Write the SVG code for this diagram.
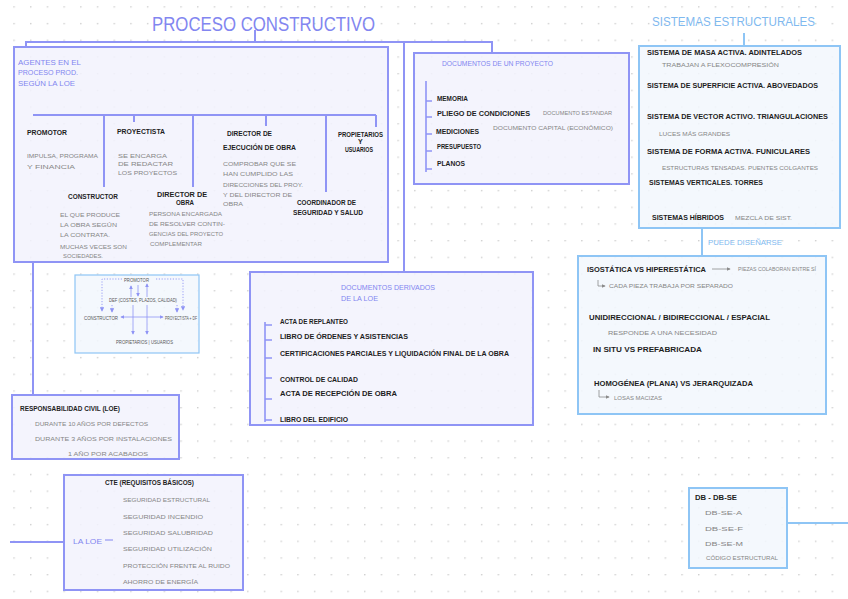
<svg xmlns="http://www.w3.org/2000/svg" width="848" height="599" viewBox="0 0 848 599">
<defs>
<pattern id="grid" x="13.3" y="6.2" width="16.7" height="16.7" patternUnits="userSpaceOnUse"><circle cx="0.8" cy="0.8" r="0.75" fill="#c2c2c2"/></pattern>
<marker id="ah" viewBox="0 0 6 6" refX="5" refY="3" markerWidth="5" markerHeight="5" orient="auto-start-reverse"><path d="M0,0 L6,3 L0,6 z" fill="#8f94f5"/></marker>
<marker id="gh" viewBox="0 0 6 6" refX="5" refY="3" markerWidth="5" markerHeight="5" orient="auto-start-reverse"><path d="M0,0 L6,3 L0,6 z" fill="#8a8a8a"/></marker>
<style>
text{font-family:"Liberation Sans",Arial,sans-serif;}
.box{fill:#f2f2fd;fill-opacity:0.85;stroke:#8f94f5;stroke-width:2;}
.lbox{fill:#f2f7fd;fill-opacity:0.85;stroke:#8ec5f5;stroke-width:2;}
.conn{fill:none;stroke:#8f94f5;stroke-width:2;}
.lconn{fill:none;stroke:#8ec5f5;stroke-width:2;}
.br{fill:none;stroke:#8f94f5;stroke-width:1.6;}
.t{fill:#1e1e1e;font-size:7px;font-weight:bold;}
.g{fill:#858585;font-size:6px;}
.b{fill:#8286f0;font-size:7.5px;}
.lb{fill:#7fb9ef;font-size:7.5px;}
.s{fill:#555;font-size:4.5px;}
.thin{fill:none;stroke:#8f94f5;stroke-width:0.8;}
.dot{fill:none;stroke:#8f94f5;stroke-width:0.9;stroke-dasharray:1.2 1.6;}
.garr{fill:none;stroke:#8a8a8a;stroke-width:0.8;}
</style>
</defs>
<rect width="848" height="599" fill="#ffffff"/>
<rect width="848" height="599" fill="url(#grid)"/>

<text x="152" y="31" font-size="20" fill="#8286f0" textLength="223" lengthAdjust="spacingAndGlyphs">PROCESO CONSTRUCTIVO</text>
<text x="652" y="26" font-size="13" fill="#7fb9ef" textLength="163" lengthAdjust="spacingAndGlyphs">SISTEMAS ESTRUCTURALES</text>

<g id="connectors">
<path class="conn" d="M255,30 V42"/>
<path class="conn" d="M26,47 V42 H492 V53"/>
<path class="conn" d="M404,42 V272"/>
<path class="conn" d="M33,262 V395"/>
<path class="conn" d="M10,542 H64"/>
<path class="lconn" d="M744,33 V46"/>
<path class="lconn" d="M702,228 V256"/>
<path class="lconn" d="M787,523 H848"/>
<text class="lb" x="708" y="245" textLength="74" lengthAdjust="spacingAndGlyphs">PUEDE DISEÑARSE</text>
</g>

<g id="agentes">
<rect class="box" x="14" y="47" width="374" height="215"/>
<text class="b" x="18" y="65" textLength="63" lengthAdjust="spacingAndGlyphs">AGENTES EN EL</text>
<text class="b" x="18" y="75" textLength="60" lengthAdjust="spacingAndGlyphs">PROCESO PROD.</text>
<text class="b" x="18" y="86" textLength="57" lengthAdjust="spacingAndGlyphs">SEGÚN LA LOE</text>
<path class="conn" d="M33,115 H376 M104,115 V187 M134,115 V122 M193,115 V187 M266,115 V126 M326,115 V192 M376,115 V127"/>
<text class="t" x="27" y="135" textLength="40" lengthAdjust="spacingAndGlyphs">PROMOTOR</text>
<text class="g" x="27" y="158" textLength="71" lengthAdjust="spacingAndGlyphs">IMPULSA, PROGRAMA</text>
<text class="g" x="27" y="169" textLength="48" lengthAdjust="spacingAndGlyphs">Y FINANCIA</text>
<text class="t" x="117" y="134" textLength="48" lengthAdjust="spacingAndGlyphs">PROYECTISTA</text>
<text class="g" x="118" y="158" textLength="49" lengthAdjust="spacingAndGlyphs">SE ENCARGA</text>
<text class="g" x="118" y="166" textLength="55" lengthAdjust="spacingAndGlyphs">DE REDACTAR</text>
<text class="g" x="118" y="175" textLength="59" lengthAdjust="spacingAndGlyphs">LOS PROYECTOS</text>
<text class="t" x="68" y="199" textLength="50" lengthAdjust="spacingAndGlyphs">CONSTRUCTOR</text>
<text class="g" x="60" y="217" textLength="60" lengthAdjust="spacingAndGlyphs">EL QUE PRODUCE</text>
<text class="g" x="60" y="227" textLength="57" lengthAdjust="spacingAndGlyphs">LA OBRA SEGÚN</text>
<text class="g" x="60" y="237" textLength="50" lengthAdjust="spacingAndGlyphs">LA CONTRATA.</text>
<text class="g" x="60" y="249" textLength="67" lengthAdjust="spacingAndGlyphs">MUCHAS VECES SON</text>
<text class="g" x="63" y="258" textLength="40" lengthAdjust="spacingAndGlyphs">SOCIEDADES.</text>
<text class="t" x="157" y="197" textLength="50" lengthAdjust="spacingAndGlyphs">DIRECTOR DE</text>
<text class="t" x="176" y="205" textLength="18" lengthAdjust="spacingAndGlyphs">OBRA</text>
<text class="g" x="149" y="216" textLength="73" lengthAdjust="spacingAndGlyphs">PERSONA ENCARGADA</text>
<text class="g" x="149" y="226" textLength="76" lengthAdjust="spacingAndGlyphs">DE RESOLVER CONTIN-</text>
<text class="g" x="149" y="236" textLength="74" lengthAdjust="spacingAndGlyphs">GENCIAS DEL PROYECTO</text>
<text class="g" x="150" y="246" textLength="52" lengthAdjust="spacingAndGlyphs">COMPLEMENTAR</text>
<text class="t" x="227" y="136" textLength="45" lengthAdjust="spacingAndGlyphs">DIRECTOR DE</text>
<text class="t" x="223" y="150" textLength="73" lengthAdjust="spacingAndGlyphs">EJECUCIÓN DE OBRA</text>
<text class="g" x="223" y="166" textLength="73" lengthAdjust="spacingAndGlyphs">COMPROBAR QUE SE</text>
<text class="g" x="223" y="176" textLength="70" lengthAdjust="spacingAndGlyphs">HAN CUMPLIDO LAS</text>
<text class="g" x="223" y="187" textLength="80" lengthAdjust="spacingAndGlyphs">DIRECCIONES DEL PROY.</text>
<text class="g" x="223" y="197" textLength="69" lengthAdjust="spacingAndGlyphs">Y DEL DIRECTOR DE</text>
<text class="g" x="223" y="206" textLength="20" lengthAdjust="spacingAndGlyphs">OBRA</text>
<text class="t" x="338" y="137" font-size="5.5" textLength="45" lengthAdjust="spacingAndGlyphs">PROPIETARIOS</text>
<text class="t" x="358" y="144" font-size="5.5">Y</text>
<text class="t" x="345" y="152" font-size="5.5" textLength="28" lengthAdjust="spacingAndGlyphs">USUARIOS</text>
<text class="t" x="297" y="205" textLength="59" lengthAdjust="spacingAndGlyphs">COORDINADOR DE</text>
<text class="t" x="293" y="215" textLength="70" lengthAdjust="spacingAndGlyphs">SEGURIDAD Y SALUD</text>
</g>

<g id="documentos-proyecto">
<rect class="box" x="414" y="53" width="215" height="131"/>
<text class="b" x="442" y="66" textLength="111" lengthAdjust="spacingAndGlyphs">DOCUMENTOS DE UN PROYECTO</text>
<path class="br" d="M426,81 V172 M426,101 H432 M426,117 H432 M426,134 H432 M426,151 H432 M426,169 H432"/>
<text class="t" x="437" y="101" textLength="31" lengthAdjust="spacingAndGlyphs">MEMORIA</text>
<text class="t" x="437" y="116" textLength="93" lengthAdjust="spacingAndGlyphs">PLIEGO DE CONDICIONES</text>
<text class="g" x="543" y="115" textLength="69" lengthAdjust="spacingAndGlyphs">DOCUMENTO ESTANDAR</text>
<text class="t" x="436" y="134" textLength="43" lengthAdjust="spacingAndGlyphs">MEDICIONES</text>
<text class="g" x="493" y="130" textLength="120" lengthAdjust="spacingAndGlyphs">DOCUMENTO CAPITAL (ECONÓMICO)</text>
<text class="t" x="437" y="149" textLength="44" lengthAdjust="spacingAndGlyphs">PRESUPUESTO</text>
<text class="t" x="437" y="166" textLength="28" lengthAdjust="spacingAndGlyphs">PLANOS</text>
</g>

<g id="documentos-derivados">
<rect class="box" x="250" y="272" width="283" height="153"/>
<text class="b" x="341" y="290" textLength="94" lengthAdjust="spacingAndGlyphs">DOCUMENTOS DERIVADOS</text>
<text class="b" x="341" y="301" textLength="37" lengthAdjust="spacingAndGlyphs">DE LA LOE</text>
<path class="br" d="M265,322 V422 M265,325 H272 M265,340 H272 M265,358 H272 M265,378 H272 M265,399 H272 M265,420 H272"/>
<text class="t" x="280" y="324" textLength="68" lengthAdjust="spacingAndGlyphs">ACTA DE REPLANTEO</text>
<text class="t" x="280" y="339" textLength="128" lengthAdjust="spacingAndGlyphs">LIBRO DE ÓRDENES Y ASISTENCIAS</text>
<text class="t" x="280" y="356" textLength="229" lengthAdjust="spacingAndGlyphs">CERTIFICACIONES PARCIALES Y LIQUIDACIÓN FINAL DE LA OBRA</text>
<text class="t" x="280" y="382" textLength="78" lengthAdjust="spacingAndGlyphs">CONTROL DE CALIDAD</text>
<text class="t" x="280" y="396" textLength="117" lengthAdjust="spacingAndGlyphs">ACTA DE RECEPCIÓN DE OBRA</text>
<text class="t" x="280" y="422" textLength="68" lengthAdjust="spacingAndGlyphs">LIBRO DEL EDIFICIO</text>
</g>

<g id="esquema-agentes">
<rect x="75" y="275" width="124" height="78" fill="#f2f7fd" fill-opacity="0.85" stroke="#8ec5f5" stroke-width="1.2"/>
<path class="dot" d="M122,279 H102 V311" marker-end="url(#ah)"/>
<path class="dot" d="M156,279 H183 V310" marker-end="url(#ah)"/>
<path class="dot" d="M112,305 V312" marker-end="url(#ah)"/>
<path class="dot" d="M177,305 V312" marker-end="url(#ah)"/>
<path class="thin" d="M131,297 V286" marker-end="url(#ah)"/>
<path class="thin" d="M138,285 V296" marker-end="url(#ah)"/>
<path class="thin" d="M147,297 V284" marker-end="url(#ah)"/>
<path class="thin" d="M121,317 H163" marker-start="url(#ah)" marker-end="url(#ah)"/>
<path class="thin" d="M133,305 V334" marker-end="url(#ah)"/>
<path class="thin" d="M147,305 V334" marker-end="url(#ah)"/>
<text class="s" x="124" y="282" textLength="25" lengthAdjust="spacingAndGlyphs">PROMOTOR</text>
<text class="s" x="109" y="302" textLength="68" lengthAdjust="spacingAndGlyphs">DEF (COSTES, PLAZOS, CALIDAD)</text>
<text class="s" x="84" y="320" textLength="34" lengthAdjust="spacingAndGlyphs">CONSTRUCTOR</text>
<text class="s" x="165" y="320" textLength="32" lengthAdjust="spacingAndGlyphs">PROYECTISTA + DF</text>
<text class="s" x="116" y="344" textLength="57" lengthAdjust="spacingAndGlyphs">PROPIETARIOS | USUARIOS</text>
</g>

<g id="responsabilidad">
<rect class="box" x="12" y="395" width="167" height="64"/>
<text class="t" x="20" y="411" textLength="100" lengthAdjust="spacingAndGlyphs">RESPONSABILIDAD CIVIL (LOE)</text>
<text class="g" x="35" y="426" textLength="113" lengthAdjust="spacingAndGlyphs">DURANTE 10 AÑOS POR DEFECTOS</text>
<text class="g" x="35" y="441" textLength="137" lengthAdjust="spacingAndGlyphs">DURANTE 3 AÑOS POR INSTALACIONES</text>
<text class="g" x="68" y="456" textLength="80" lengthAdjust="spacingAndGlyphs">1 AÑO POR ACABADOS</text>
</g>

<g id="cte">
<rect class="box" x="64" y="475" width="179" height="115"/>
<text class="t" x="105" y="485" textLength="89" lengthAdjust="spacingAndGlyphs">CTE (REQUISITOS BÁSICOS)</text>
<text class="b" x="73" y="544" textLength="29" lengthAdjust="spacingAndGlyphs">LA LOE</text>
<path d="M105,540 H113" stroke="#8286f0" stroke-width="1"/>
<text class="g" x="123" y="502" textLength="87" lengthAdjust="spacingAndGlyphs">SEGURIDAD ESTRUCTURAL</text>
<text class="g" x="123" y="519" textLength="80" lengthAdjust="spacingAndGlyphs">SEGURIDAD INCENDIO</text>
<text class="g" x="123" y="535" textLength="90" lengthAdjust="spacingAndGlyphs">SEGURIDAD SALUBRIDAD</text>
<text class="g" x="123" y="551" textLength="89" lengthAdjust="spacingAndGlyphs">SEGURIDAD UTILIZACIÓN</text>
<text class="g" x="123" y="568" textLength="107" lengthAdjust="spacingAndGlyphs">PROTECCIÓN FRENTE AL RUIDO</text>
<text class="g" x="123" y="584" textLength="75" lengthAdjust="spacingAndGlyphs">AHORRO DE ENERGÍA</text>
</g>

<g id="sistemas">
<rect class="lbox" x="639" y="46" width="201" height="182"/>
<text class="t" x="647" y="55" textLength="155" lengthAdjust="spacingAndGlyphs">SISTEMA DE MASA ACTIVA. ADINTELADOS</text>
<text class="g" x="662" y="67" textLength="117" lengthAdjust="spacingAndGlyphs">TRABAJAN A FLEXOCOMPRESIÓN</text>
<text class="t" x="647" y="88" textLength="171" lengthAdjust="spacingAndGlyphs">SISTEMA DE SUPERFICIE ACTIVA. ABOVEDADOS</text>
<text class="t" x="647" y="119" textLength="181" lengthAdjust="spacingAndGlyphs">SISTEMA DE VECTOR ACTIVO. TRIANGULACIONES</text>
<text class="g" x="659" y="136" textLength="71" lengthAdjust="spacingAndGlyphs">LUCES MÁS GRANDES</text>
<text class="t" x="647" y="154" textLength="163" lengthAdjust="spacingAndGlyphs">SISTEMA DE FORMA ACTIVA. FUNICULARES</text>
<text class="g" x="662" y="170" textLength="156" lengthAdjust="spacingAndGlyphs">ESTRUCTURAS TENSADAS. PUENTES COLGANTES</text>
<text class="t" x="649" y="185" textLength="114" lengthAdjust="spacingAndGlyphs">SISTEMAS VERTICALES. TORRES</text>
<text class="t" x="652" y="220" textLength="72" lengthAdjust="spacingAndGlyphs">SISTEMAS HÍBRIDOS</text>
<text class="g" x="735" y="220" textLength="57" lengthAdjust="spacingAndGlyphs">MEZCLA DE SIST.</text>
</g>

<g id="clasificacion">
<rect class="lbox" x="578" y="256" width="248" height="158"/>
<text class="t" x="587" y="272" textLength="119" lengthAdjust="spacingAndGlyphs">ISOSTÁTICA VS HIPERESTÁTICA</text>
<path class="garr" d="M712,269 H730" marker-end="url(#gh)"/>
<text class="g" x="738" y="271" textLength="78" lengthAdjust="spacingAndGlyphs">PIEZAS COLABORAN ENTRE SÍ</text>
<path class="garr" d="M598,280 V286 H605" marker-end="url(#gh)"/>
<text class="g" x="609" y="288" textLength="124" lengthAdjust="spacingAndGlyphs">CADA PIEZA TRABAJA POR SEPARADO</text>
<text class="t" x="589" y="320" textLength="181" lengthAdjust="spacingAndGlyphs">UNIDIRECCIONAL / BIDIRECCIONAL / ESPACIAL</text>
<text class="g" x="608" y="335" textLength="109" lengthAdjust="spacingAndGlyphs">RESPONDE A UNA NECESIDAD</text>
<text class="t" x="593" y="352" textLength="109" lengthAdjust="spacingAndGlyphs">IN SITU VS PREFABRICADA</text>
<text class="t" x="594" y="386" textLength="159" lengthAdjust="spacingAndGlyphs">HOMOGÉNEA (PLANA) VS JERARQUIZADA</text>
<path class="garr" d="M599,390 V397 H609" marker-end="url(#gh)"/>
<text class="g" x="614" y="400" textLength="48" lengthAdjust="spacingAndGlyphs">LOSAS MACIZAS</text>
</g>

<g id="db">
<rect class="lbox" x="689" y="488" width="98" height="80"/>
<text class="t" x="695" y="500" textLength="42" lengthAdjust="spacingAndGlyphs">DB - DB-SE</text>
<text class="g" x="705" y="515" textLength="37" lengthAdjust="spacingAndGlyphs">DB-SE-A</text>
<text class="g" x="705" y="531" textLength="38" lengthAdjust="spacingAndGlyphs">DB-SE-F</text>
<text class="g" x="705" y="546" textLength="38" lengthAdjust="spacingAndGlyphs">DB-SE-M</text>
<text class="g" x="706" y="560" textLength="72" lengthAdjust="spacingAndGlyphs">CÓDIGO ESTRUCTURAL</text>
</g>
</svg>
